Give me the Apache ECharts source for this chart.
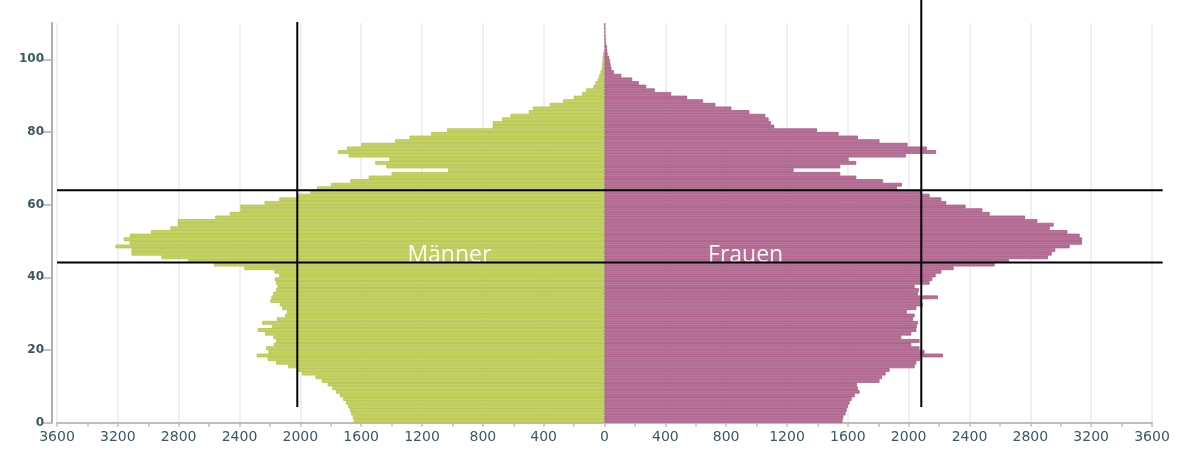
<!DOCTYPE html>
<html><head><meta charset="utf-8">
<script src="https://cdn.jsdelivr.net/npm/echarts@6/dist/echarts.min.js"></script>
<style>html,body{margin:0;padding:0;background:#fff}#c{width:1181px;height:452px}</style>
</head><body><div id="c"></div>
<script>
// age categories 0..109
const ages = [];
for (let i = 0; i < 110; i++) ages.push(String(i));

// Männer, ages 0..101
const men = [
  1648,1655,1665,1675,1685,1700,1718,1740,1765,1790,
  1820,1860,1900,1990,2020,2080,2160,2215,2287,2210,
  2225,2175,2160,2176,2232,2280,2187,2252,2154,2100,
  2088,2120,2135,2197,2190,2178,2160,2150,2160,2168,
  2140,2170,2368,2569,2738,2913,3110,3110,3215,3121,
  3161,3121,2981,2854,2806,2806,2559,2464,2394,2394,
  2235,2138,2013,1934,1890,1798,1671,1550,1400,1028,
  1434,1507,1414,1682,1752,1693,1599,1377,1281,1140,
  1035,735,735,673,618,498,471,360,272,202,
  147,121,72,59,44,34,26,18,15,13,
  11,8
];

// Frauen, ages 0..109
const women = [
  1565,1570,1585,1592,1600,1611,1625,1645,1677,1665,
  1659,1808,1825,1848,1874,2039,2050,2075,2225,2104,
  2071,2017,2071,1951,2017,2050,2053,2060,2028,2039,
  1988,2050,2093,2082,2192,2060,2067,2039,2137,2155,
  2177,2214,2295,2565,2659,2916,2940,2964,3058,3140,
  3140,3124,3043,2927,2953,2846,2764,2532,2484,2374,
  2247,2214,2137,2080,1922,1955,1830,1655,1550,1243,
  1550,1655,1605,1981,2180,2119,1992,1808,1666,1539,
  1397,1116,1094,1079,1057,952,834,729,648,543,
  438,330,274,225,182,110,61,45,40,36,
  30,20,17,15,8,7,6,5,4,3
];

const yTickValues = [0, 20, 40, 60, 80, 100];

// reference lines (data units)
const vLines = [
  { x: -2020, from: 4.3, to: 110.3 },
  { x: 2083, from: 4.3, to: 116.3 }
];
const hLines = [
  { y: 64, from: -3600, to: 3670 },
  { y: 44.1, from: -3600, to: 3670 }
];
const names = [
  { text: 'Männer', x: -1020, y: 45.9 },
  { text: 'Frauen', x: 928, y: 45.9 }
];

const chart = echarts.init(document.getElementById('c'));
chart.setOption({
  animation: false,
  grid: { left: 57, right: 29, top: 23, bottom: 29.3 },
  xAxis: {
    type: 'value', min: -3600, max: 3600, interval: 400,
    axisLine: { show: true, onZero: false, lineStyle: { color: '#bdbdbd', width: 2 } },
    axisTick: { show: true, length: 4, lineStyle: { color: '#bdbdbd', width: 1.5 } },
    minorTick: { show: true, splitNumber: 2, length: 4, lineStyle: { color: '#bdbdbd', width: 1.5 } },
    splitLine: { show: true, lineStyle: { color: '#ebebeb', width: 1.5 } },
    axisLabel: {
      formatter: v => String(Math.abs(v)),
      color: '#3b5866', fontSize: 14, fontFamily: 'DejaVu Sans', margin: 8
    }
  },
  yAxis: [
    { type: 'category', data: ages, show: false, boundaryGap: true },
    {
      type: 'value', min: 0, max: 110, interval: 20, position: 'left', offset: 5,
      axisLine: { show: true, lineStyle: { color: '#b0b0b0', width: 2 } },
      axisTick: { show: true, length: 10, customValues: yTickValues, lineStyle: { color: '#b0b0b0', width: 1.5 } },
      splitLine: { show: false },
      axisLabel: {
        customValues: yTickValues,
        color: '#3b5866', fontSize: 12, fontWeight: 'bold', fontFamily: 'DejaVu Sans', margin: 8
      }
    }
  ],
  series: [
    {
      type: 'bar', name: 'Männer', yAxisIndex: 0, xAxisIndex: 0,
      data: men.map(v => -v),
      barCategoryGap: '0%', barGap: '-100%',
      itemStyle: { color: '#c6d45f', borderColor: '#adbc46', borderWidth: 0.7 }
    },
    {
      type: 'bar', name: 'Frauen', yAxisIndex: 0, xAxisIndex: 0,
      data: women,
      barCategoryGap: '0%', barGap: '-100%',
      itemStyle: { color: '#b97299', borderColor: '#9f4f7b', borderWidth: 0.7 }
    }
  ]
});

const px = (x, y) => chart.convertToPixel({ xAxisIndex: 0, yAxisIndex: 1 }, [x, y]);
const g = [];
names.forEach(n => {
  const p = px(n.x, n.y);
  g.push({
    type: 'text', z: 100, x: p[0], y: p[1],
    style: {
      text: n.text, fill: 'rgba(255,255,255,0.92)',
      font: '23px "Open Sans"', fontSize: 23, fontFamily: 'Open Sans',
      align: 'center', verticalAlign: 'middle', textAlign: 'center', textVerticalAlign: 'middle'
    }
  });
});
vLines.forEach(l => {
  const a = px(l.x, l.from), b = px(l.x, l.to);
  g.push({ type: 'line', z: 101, shape: { x1: a[0], y1: a[1], x2: b[0], y2: b[1] }, style: { stroke: '#000', lineWidth: 2 } });
});
hLines.forEach(l => {
  const a = px(l.from, l.y), b = px(l.to, l.y);
  g.push({ type: 'line', z: 101, shape: { x1: a[0], y1: a[1], x2: b[0], y2: b[1] }, style: { stroke: '#000', lineWidth: 2 } });
});
chart.setOption({ graphic: g });
</script>
</body></html>
